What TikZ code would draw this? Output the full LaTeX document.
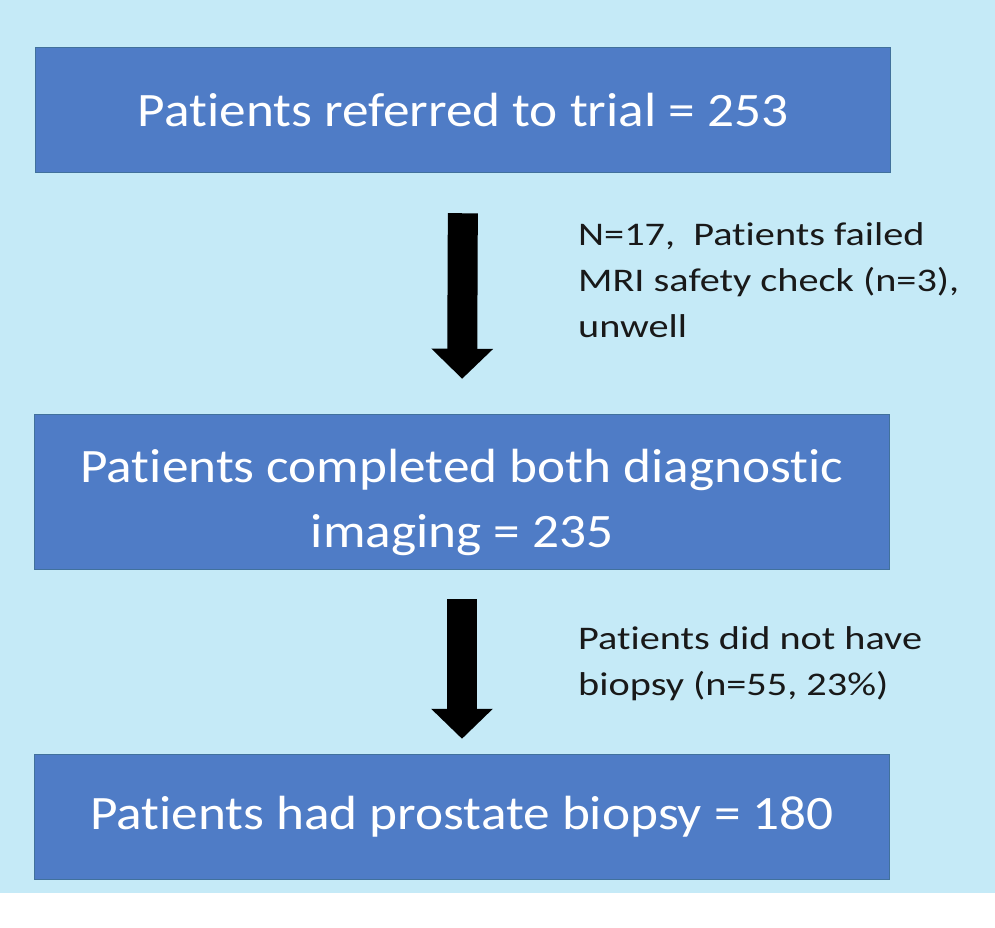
\documentclass[tikz,border=0pt]{standalone}
\usepackage{fontspec}
\setmainfont{Carlito}[Ligatures=NoCommon]
\newfontfamily\boxfont{Carlito}[Ligatures=NoCommon,FakeStretch=1.11]
\newfontfamily\notefont{Carlito}[Ligatures=NoCommon,FakeStretch=1.22]
\usetikzlibrary{arrows.meta}
\definecolor{pagebg}{HTML}{C5EAF7}
\definecolor{boxblue}{HTML}{4F7CC6}
\definecolor{boxedge}{HTML}{41719C}
\tikzset{
  flowbox/.style={draw=boxedge, line width=1.5pt, fill=boxblue, text=white,
    minimum width=855pt, inner sep=0pt, align=center,
    font=\boxfont\fontsize{48}{65}\selectfont},
  fatarrow/.style={line width=30pt, -{Triangle[width=60pt,length=30pt]}},
  sidenote/.style={anchor=north west, inner sep=0pt, align=left, text=black!90,
    font=\notefont\fontsize{33}{46}\selectfont}
}
\begin{document}
\begin{tikzpicture}[x=1pt,y=-1pt]
\useasboundingbox (0,0) rectangle (995,927);
\fill[pagebg] (0,0) rectangle (995,893);
\node[flowbox, minimum height=125pt] (referred) at (463,110) {Patients referred to trial = 253};
\node[flowbox, minimum height=155pt] (imaging) at (462,492) {\\[-10pt]Patients completed both diagnostic\\imaging = 235};
\node[flowbox, minimum height=125pt] (biopsy) at (462,817) {Patients had prostate biopsy = 180};
\draw[fatarrow, shorten <=40pt, shorten >=35pt] (referred.south) -- (imaging.north);
\draw[fatarrow, shorten <=29pt, shorten >=15pt] (imaging.south) -- (biopsy.north);
\node[sidenote] (excluded) at (578,222) {N=17,\ \ Patients failed\\MRI safety check (n=3),\\unwell};
\node[sidenote] (nobiopsy) at (578,626) {Patients did not have\\biopsy (n=55, 23\%)};
\end{tikzpicture}
\end{document}
